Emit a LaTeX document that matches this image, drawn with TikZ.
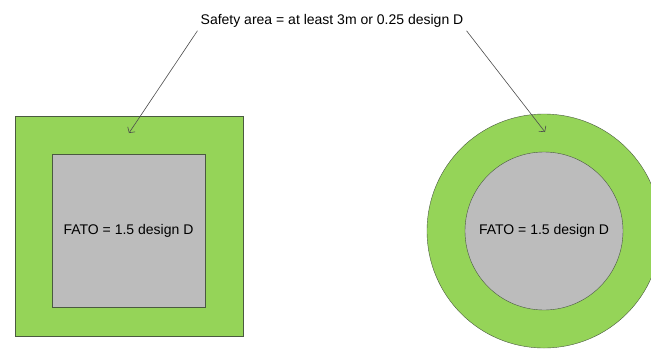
\documentclass[tikz,border=0pt]{standalone}
\usepackage{fontspec}
\setmainfont{Liberation Sans}
\usetikzlibrary{arrows.meta,positioning,shapes.geometric}
\definecolor{safegreen}{HTML}{95D458}
\definecolor{fatogray}{HTML}{BCBCBC}
\definecolor{edgegray}{HTML}{4A5A40}
\tikzset{
  safesq/.style={draw=edgegray, fill=safegreen, minimum width=228pt, minimum height=220pt, inner sep=0pt},
  fatosq/.style={draw=edgegray, fill=fatogray, minimum size=153pt, inner sep=0pt, font=\fontsize{14}{16}\selectfont},
  safecirc/.style={draw=edgegray, fill=safegreen, circle, minimum size=234pt, inner sep=0pt},
  fatocirc/.style={draw=edgegray, fill=fatogray, circle, minimum size=158pt, inner sep=0pt, font=\fontsize{14}{16}\selectfont},
  note/.style={font=\fontsize{14}{16}\selectfont, inner sep=3pt},
  arrow/.style={-{Straight Barb[length=4pt,width=9pt]}, draw=black!70, line width=0.6pt}
}

\begin{document}
\begin{tikzpicture}[x=1pt, y=-1pt]
  \useasboundingbox (0,0) rectangle (651,349);
  % square pad
  \node[safesq] (sqsafe) at (129,226) {};
  \node[fatosq] (sqfato) at (128.5,230.5) {FATO = 1.5 design D};
  % round pad
  \node[safecirc] (rdsafe) at (544,231) {};
  \node[fatocirc] (rdfato) at (544,231) {FATO = 1.5 design D};
  % label and pointers
  \node[note] (safety) at (332,21) {Safety area = at least 3m or 0.25 design D};
  \coordinate (tipsq) at (129,133);
  \coordinate (tiprd) at (545,132);
  \draw[arrow] (safety.south west) -- (tipsq);
  \draw[arrow] (safety.south east) -- (tiprd);
\end{tikzpicture}
\end{document}
